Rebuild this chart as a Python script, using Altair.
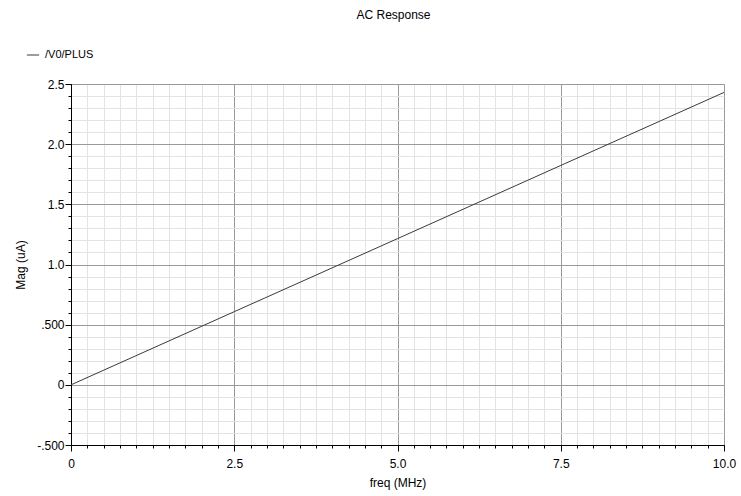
import altair as alt
import pandas as pd

# AC sweep of the current through /V0/PLUS
freq_mhz = [0.0, 2.5, 5.0, 7.5, 10.0]
mag_ua = [0.0, 0.608, 1.215, 1.823, 2.43]
series_name = "/V0/PLUS"

x_major = [0.0, 2.5, 5.0, 7.5, 10.0]
x_minor = [i * 0.25 for i in range(41)]
y_major = [-0.5, 0.0, 0.5, 1.0, 1.5, 2.0, 2.5]
y_minor = [round(-0.5 + i * 0.1, 2) for i in range(31)]

df = pd.DataFrame({"freq": freq_mhz, "mag": mag_ua, "series": [series_name] * len(freq_mhz)})

FONT = "Liberation Sans"
x_scale = alt.Scale(domain=[0, 10], nice=False, zero=False)
y_scale = alt.Scale(domain=[-0.5, 2.5], nice=False, zero=False)

y_label_expr = (
    "datum.value == 0 ? '0' : (abs(datum.value) < 1 ? "
    "replace(replace(format(datum.value, '.3f'), '0.', '.'), '\u2212', '-') : format(datum.value, '.1f'))"
)
x_label_expr = "datum.value == 0 ? '0' : format(datum.value, '.1f')"

base = alt.Chart(df)

# fine grid with short ticks
minor = base.mark_line(opacity=0).encode(
    x=alt.X("freq:Q", scale=x_scale,
            axis=alt.Axis(orient="bottom", values=x_minor, labels=False, title=None,
                          grid=True, gridColor="#e3e3e3", gridWidth=1,
                          tickSize=3, tickColor="#000", domain=False)),
    y=alt.Y("mag:Q", scale=y_scale,
            axis=alt.Axis(orient="left", values=y_minor, labels=False, title=None,
                          grid=True, gridColor="#e3e3e3", gridWidth=1,
                          tickSize=3, tickColor="#000", domain=False)),
)

# main grid, labels and the trace
trace = base.mark_line(strokeWidth=1).encode(
    x=alt.X("freq:Q", scale=x_scale,
            axis=alt.Axis(orient="bottom", values=x_major, labelExpr=x_label_expr,
                          title="freq (MHz)", grid=True, gridColor="#999999", gridWidth=1,
                          tickSize=6, tickColor="#000", domainColor="#000",
                          labelPadding=7, titlePadding=8, labelFlush=False)),
    y=alt.Y("mag:Q", scale=y_scale,
            axis=alt.Axis(orient="left", values=y_major, labelExpr=y_label_expr,
                          title="Mag (uA)", grid=True, gridColor="#999999", gridWidth=1,
                          tickSize=6, tickColor="#000", domainColor="#000",
                          labelPadding=1, titlePadding=9, labelFlush=False)),
    color=alt.Color("series:N",
                    scale=alt.Scale(domain=[series_name], range=["#3a3a3a"]),
                    legend=alt.Legend(orient="none", legendX=-45, legendY=-36,
                                      title=None, symbolType="stroke", symbolSize=150,
                                      symbolStrokeWidth=1, labelFontSize=11,
                                      labelFont=FONT, labelColor="#000", labelOffset=5)),
)

chart = (
    alt.layer(minor, trace)
    .resolve_axis(x="independent", y="independent")
    .properties(
        width=653,
        height=361,
        autosize=alt.AutoSizeParams(type="none"),
        padding={"left": 71, "top": 84, "right": 17, "bottom": 51},
        title=alt.TitleParams("AC Response", font=FONT, fontSize=12, fontWeight="normal",
                              color="#000", anchor="middle", offset=26, dx=-4),
        background="white",
    )
    .configure_view(stroke="#000", strokeWidth=1)
    .configure_axis(labelFont=FONT, labelFontSize=12, labelColor="#000",
                    titleFont=FONT, titleFontSize=12, titleFontWeight="normal",
                    titleColor="#000")
)

chart.save("out.html", embed_options={"renderer": "svg", "actions": False})
